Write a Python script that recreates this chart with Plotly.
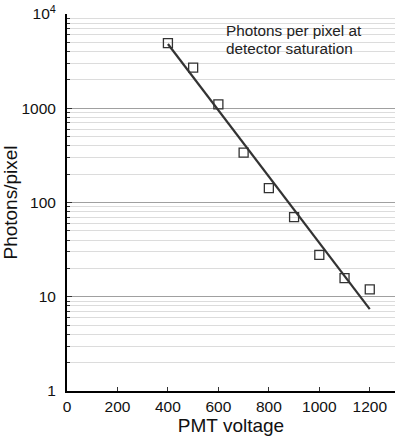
import plotly.graph_objects as go

voltage = [400, 500, 600, 700, 800, 900, 1000, 1100, 1200]
photons = [4900, 2700, 1100, 338, 142, 70, 27.8, 15.8, 12.0]
fit_x = [400, 1200]
fit_y = [4800, 7.4]
y_tickvals = [1, 10, 100, 1000, 10000]
y_ticktext = ["1", "10", "100", "1000", "10<sup>4</sup>"]
x_tickvals = [0, 200, 400, 600, 800, 1000, 1200]
note_lines = ["Photons per pixel at", "detector saturation"]

font = "Liberation Sans, Arial, sans-serif"

fig = go.Figure()
fig.add_trace(go.Scatter(x=fit_x, y=fit_y, mode="lines",
                         line=dict(color="#333333", width=2.2), showlegend=False))
fig.add_trace(go.Scatter(x=voltage, y=photons, mode="markers",
                         marker=dict(symbol="square-open", size=9, color="#333333",
                                     line=dict(width=1.3)), showlegend=False))

for i, line in enumerate(note_lines):
    fig.add_annotation(x=0.48, y=0.955 - i * 0.0475, xref="paper", yref="paper",
                       xanchor="left", yanchor="middle",
                       text=line, showarrow=False, align="left",
                       font=dict(family=font, size=15.3, color="#222222"))

fig.update_layout(
    width=398, height=440, margin=dict(l=67, r=3, t=14, b=49),
    paper_bgcolor="white", plot_bgcolor="white",
    font=dict(family=font, size=15.5, color="#111111"),
    xaxis=dict(range=[0, 1300], tickvals=x_tickvals, ticks="inside", ticklen=4, tickcolor="#333",
               showline=True, linecolor="black", linewidth=2, showgrid=False, zeroline=False,
               automargin=False,
               title=dict(text="PMT voltage", standoff=4), ticklabelstandoff=0),
    yaxis=dict(type="log", range=[0, 4], tickvals=y_tickvals, ticktext=y_ticktext,
               ticks="inside", ticklen=5, tickcolor="#333",
               showline=True, linecolor="black", linewidth=2,
               showgrid=True, gridcolor="#a0a0a0", gridwidth=1.2, zeroline=False,
               automargin=False,
               minor=dict(dtick="D1", ticks="inside", ticklen=3, tickcolor="#333",
                          showgrid=True, gridcolor="#dcdcdc", gridwidth=1.2),
               title=dict(text="Photons/pixel", standoff=6), ticklabelstandoff=6),
)
fig.write_html("out.html", config={"displayModeBar": False},
               post_script="document.body.style.margin='0';document.body.style.overflow='hidden';")
